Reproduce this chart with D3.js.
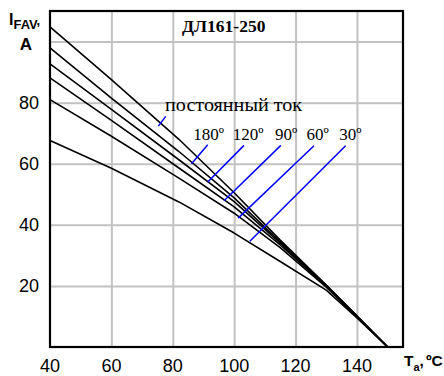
<!DOCTYPE html>
<html>
<head>
<meta charset="utf-8">
<script src="https://cdn.jsdelivr.net/npm/d3@7"></script>
<style>
  body { margin: 0; background: #fff; }
  svg { display: block; }
  .grid line { stroke: #c2c2c2; stroke-width: 2px; }
  .grid path { display: none; }
</style>
</head>
<body>
<div id="chart"></div>
<script>
// ambient temperature, °C
const temps = [40, 60, 82, 100, 115, 130, 140, 150]
// I_FAV, A for each conduction angle
const dcCurrent = [104.8, 87.5, 68.0, 50.5, 35.0, 20.3, 10.2, 0]
const angle180 = [97.9, 81.5, 64.0, 48.8, 34.4, 20.2, 10.1, 0]
const angle120 = [92.7, 77.8, 61.3, 47.6, 34.0, 20.1, 10.0, 0]
const angle90 = [88.1, 74.2, 58.6, 45.9, 33.4, 19.9, 9.9, 0]
const angle60 = [81.0, 69.0, 55.3, 43.8, 32.5, 19.6, 9.8, 0]
const angle30 = [67.6, 58.5, 47.5, 37.3, 28.0, 18.6, 9.5, 0]
const seriesList = [dcCurrent, angle180, angle120, angle90, angle60, angle30]

const xTicks = [40, 60, 80, 100, 120, 140]
const yTicks = [20, 40, 60, 80]
const xGrid = [60, 80, 100, 120, 140]
const yGrid = [20, 40, 60, 80, 100]

// callout labels and their pointer lines, in data units (T, I)
const calloutLabels = ["постоянный ток", "180º", "120º", "90º", "60º", "30º"]
const calloutTextT = [77.5, 86.7, 99.5, 113.3, 123.6, 134.2]
const calloutTextI = [77.1, 67.9, 67.9, 67.9, 67.9, 67.9]
const pointerFromT = [77.7, 91.4, 103.2, 115.2, 126.0, 136.3]
const pointerFromI = [75.5, 66.2, 66.0, 66.0, 65.9, 65.9]
const pointerToT = [75.3, 86.1, 91.4, 96.7, 101.3, 105.1]
const pointerToI = [72.3, 60.0, 54.0, 47.9, 42.2, 34.6]

const margin = { top: 11, right: 41, bottom: 29, left: 50 }
const W = 444, H = 376
const width = W - margin.left - margin.right
const height = H - margin.top - margin.bottom

const svg = d3.select("#chart").append("svg")
              .attr("width", W).attr("height", H)

const x = d3.scaleLinear().domain([40, 155]).range([margin.left, margin.left + width])
const y = d3.scaleLinear().domain([0, 110]).range([margin.top + height, margin.top])

const sans = "'Liberation Sans', Arial, sans-serif"
const serif = "'Liberation Serif', 'Times New Roman', serif"

// grid through the axis generators
svg.append("g")
   .attr("class", "grid")
   .attr("transform", "translate(0," + y(0) + ")")
   .call(d3.axisBottom(x).tickValues(xGrid).tickSize(-height).tickFormat(""))

svg.append("g")
   .attr("class", "grid")
   .attr("transform", "translate(" + x(40) + ",0)")
   .call(d3.axisLeft(y).tickValues(yGrid).tickSize(-width).tickFormat(""))

// tick labels
svg.append("g")
   .selectAll("text")
   .data(xTicks)
   .join("text")
   .attr("x", d => x(d)).attr("y", 372)
   .attr("text-anchor", "middle")
   .attr("font-family", sans).attr("font-size", 18)
   .text(d => d)

svg.append("g")
   .selectAll("text")
   .data(yTicks)
   .join("text")
   .attr("x", 39).attr("y", d => y(d)).attr("dy", "0.35em")
   .attr("text-anchor", "end")
   .attr("font-family", sans).attr("font-size", 18)
   .text(d => d)

// curves
const line = d3.line()
               .x((d, i) => x(temps[i]))
               .y(d => y(d))

svg.append("g")
   .selectAll("path")
   .data(seriesList)
   .join("path")
   .attr("d", line)
   .attr("fill", "none")
   .attr("stroke", "#000")
   .attr("stroke-width", 1.6)
   .attr("stroke-linejoin", "round")

// pointers
svg.append("g")
   .selectAll("line")
   .data(calloutLabels)
   .join("line")
   .attr("x1", (d, i) => x(pointerFromT[i])).attr("y1", (d, i) => y(pointerFromI[i]))
   .attr("x2", (d, i) => x(pointerToT[i])).attr("y2", (d, i) => y(pointerToI[i]))
   .attr("stroke", "#0000ff").attr("stroke-width", 1.5)

svg.append("g")
   .selectAll("text")
   .data(calloutLabels)
   .join("text")
   .attr("x", (d, i) => x(calloutTextT[i])).attr("y", (d, i) => y(calloutTextI[i]))
   .attr("font-family", serif)
   .attr("font-size", (d, i) => i === 0 ? 19 : 17)
   .attr("textLength", (d, i) => i === 0 ? 137 : null)
   .attr("lengthAdjust", "spacingAndGlyphs")
   .text(d => d)

// frame
svg.append("rect")
   .attr("x", x(40)).attr("y", y(110))
   .attr("width", width).attr("height", height)
   .attr("fill", "none")
   .attr("stroke", "#000")
   .attr("stroke-width", 2.2)

// title
svg.append("text")
   .attr("x", 182).attr("y", 32)
   .attr("font-family", serif).attr("font-size", 17.5).attr("font-weight", "bold")
   .text("ДЛ161-250")

// axis names
const yName = svg.append("text")
                 .attr("x", 9).attr("y", 25)
                 .attr("font-family", sans).attr("font-weight", "bold").attr("font-size", 16)
yName.append("tspan").text("I")
yName.append("tspan").attr("font-size", 13).attr("dy", 4).text("FAV")
yName.append("tspan").attr("font-size", 13).attr("dy", -4).text(",")

svg.append("text")
   .attr("x", 26).attr("y", 50)
   .attr("text-anchor", "middle")
   .attr("font-family", sans).attr("font-weight", "bold").attr("font-size", 17)
   .text("A")

const xName = svg.append("text")
                 .attr("x", 404).attr("y", 366)
                 .attr("font-family", sans).attr("font-weight", "bold").attr("font-size", 15.5)
xName.append("tspan").text("T")
xName.append("tspan").attr("font-size", 11).attr("dy", 5).text("a")
xName.append("tspan").attr("dy", -5).text(",")
xName.append("tspan").attr("dx", 2).text("ºC")
</script>
</body>
</html>
